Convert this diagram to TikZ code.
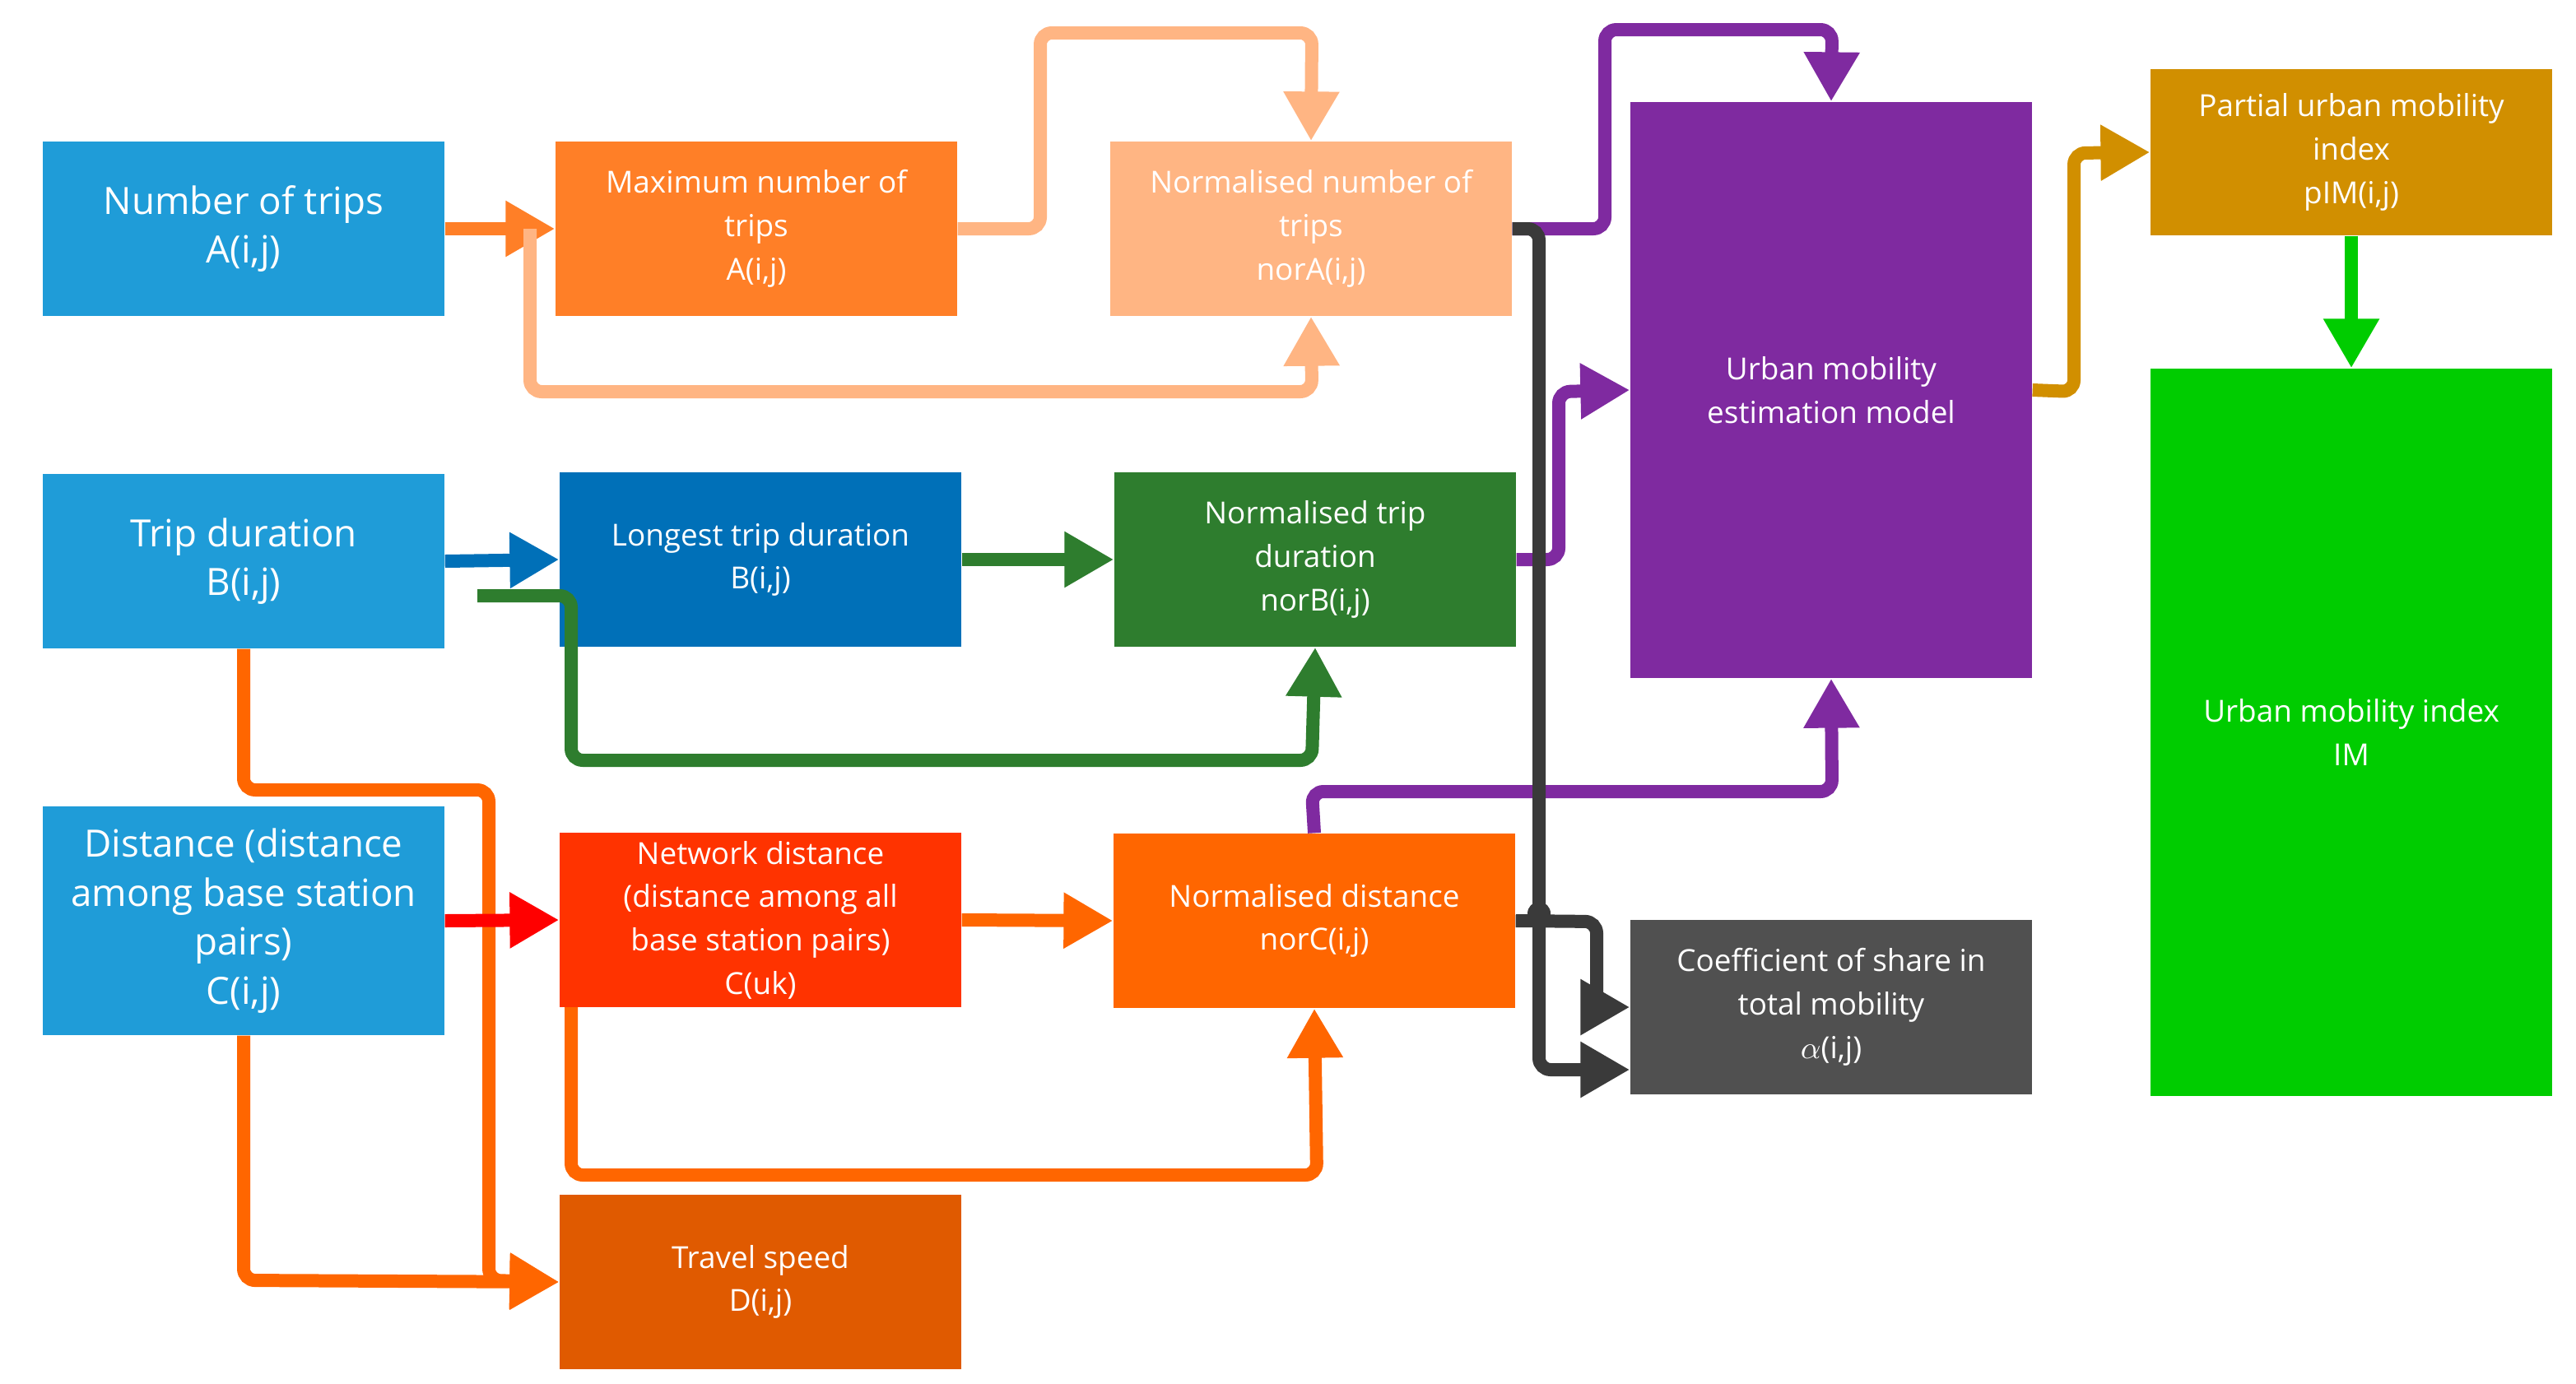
\documentclass[tikz,border=0pt]{standalone}
\usepackage{fontspec}
\setmainfont{Open Sans}
\usetikzlibrary{arrows.meta}
\definecolor{cA}{HTML}{1F9CD8}
\definecolor{cMax}{HTML}{FF7F27}
\definecolor{cNorA}{HTML}{FFB583}
\definecolor{cPur}{HTML}{7F2AA0}
\definecolor{cGold}{HTML}{D18F00}
\definecolor{cGreen}{HTML}{00CC00}
\definecolor{cLong}{HTML}{0070B8}
\definecolor{cNorB}{HTML}{2E7D2E}
\definecolor{cNet}{HTML}{FF3300}
\definecolor{cNorC}{HTML}{FF6600}
\definecolor{cCoef}{HTML}{505050}
\definecolor{cTrav}{HTML}{E05A00}
\definecolor{cDark}{HTML}{3A3A3A}
\begin{document}
\begin{tikzpicture}[x=0.02cm,y=-0.02cm,
 box/.style={draw=none,text=white,align=center,minimum width=4.88cm,minimum height=2.12cm,inner sep=2pt,font=\fontsize{10.5}{15}\selectfont},
 big/.style={font=\fontsize{13}{17}\selectfont},
 con/.style={line width=0.16cm,rounded corners=4pt,-{Triangle[width=0.64cm,length=0.6cm]}},
 nc/.style={line width=0.16cm,rounded corners=4pt}]
\fill[white] (0,0) rectangle (1565,840.5);
\node[box,big,fill=cA] (A) at (148,139) {Number of trips\\A(i,j)};
\node[box,fill=cMax] (MaxA) at (459.5,139) {Maximum number of\\trips\\A(i,j)};
\node[box,fill=cNorA] (NorA) at (796.5,139) {Normalised number of\\trips\\norA(i,j)};
\node[box,fill=cPur,minimum height=7cm] (U) at (1112.5,237) {Urban mobility\\estimation model};
\node[box,fill=cGold,minimum height=2.02cm] (P) at (1428.5,92.5) {Partial urban mobility\\index\\pIM(i,j)};
\node[box,fill=cGreen,minimum height=8.84cm] (IM) at (1428.5,445) {Urban mobility index\\IM};
\node[box,big,fill=cA] (B) at (148,341) {Trip duration\\B(i,j)};
\node[box,fill=cLong] (LB) at (462,340) {Longest trip duration\\B(i,j)};
\node[box,fill=cNorB] (NB) at (799,340) {Normalised trip\\duration\\norB(i,j)};
\node[box,big,fill=cA,minimum height=2.78cm] (C) at (148,559.5) {Distance (distance\\among base station\\pairs)\\C(i,j)};
\node[box,fill=cNet] (NC) at (462,559) {Network distance\\(distance among all\\base station pairs)\\C(uk)};
\node[box,fill=cNorC] (NoC) at (798.5,559.5) {Normalised distance\\norC(i,j)};
\node[box,fill=cCoef] (K) at (1112.5,612) {Coefficient of share in\\total mobility\\$\alpha$(i,j)};
\node[box,fill=cTrav] (T) at (462,779) {Travel speed\\D(i,j)};
% connectors
\draw[con,cMax] (A.east) -- (MaxA.west);
\draw[con,cNorA] (MaxA.east) -- (632,139) -- (632,20) -- (797,20) -- (NorA.north);
\draw[con,cNorA] (322,139) -- (322,238) -- (797,238) -- (NorA.south);
\draw[con,cPur] (NorA.east) -- (975,139) -- (975,18) -- (1113,18) -- (U.north);
\draw[con,cPur] (NB.east) -- (947,340) -- (947,238) -- (U.west);
\draw[con,cPur] (NoC.north) -- (797,481) -- (1113,481) -- (U.south);
\draw[con,cGold] (U.east) -- (1260,238) -- (1260,93) -- (P.west);
\draw[con,cGreen] (P.south) -- (IM.north);
\draw[con,cLong] (B.east) -- (LB.west);
\draw[con,cNorB] (290,362) -- (347,362) -- (347,462) -- (797,462) -- (NB.south);
\draw[con,cNorB] (LB.east) -- (NB.west);
\draw[con,cNorC] (B.south) -- (148,480) -- (297,480) -- (297,778) -- (T.west);
\draw[con,cNorC] (C.south) -- (148,778) -- (T.west);
\draw[con,red] (C.east) -- (NC.west);
\draw[con,cNorC] (NC.east) -- (NoC.west);
\draw[con,cNorC] (347,612) -- (347,714) -- (800,714) -- (NoC.south);
\draw[con,cDark] (NorA.east) -- (935,139) -- (935,650) -- (K.west |- 0,650);
\draw[con,cDark] (NoC.east) -- (970,560) -- (970,612) -- (K.west);
\fill[cDark] (935,555) circle (7);
\end{tikzpicture}
\end{document}
